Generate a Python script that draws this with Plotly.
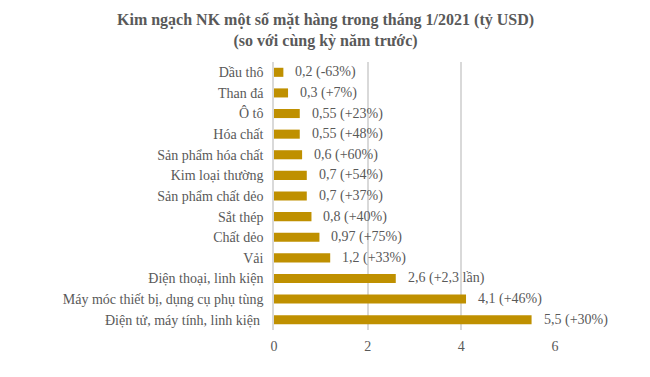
import plotly.graph_objects as go

categories = ["Dầu thô", "Than đá", "Ô tô", "Hóa chất", "Sản phẩm hóa chất",
              "Kim loại thường", "Sản phẩm chất dẻo", "Sắt thép", "Chất dẻo", "Vải",
              "Điện thoại, linh kiện", "Máy móc thiết bị, dụng cụ phụ tùng",
              "Điện tử, máy tính, linh kiện "]
values = [0.2, 0.3, 0.55, 0.55, 0.6, 0.7, 0.7, 0.8, 0.97, 1.2, 2.6, 4.1, 5.5]
labels = ["0,2 (-63%)", "0,3 (+7%)", "0,55 (+23%)", "0,55 (+48%)", "0,6 (+60%)",
          "0,7 (+54%)", "0,7 (+37%)", "0,8 (+40%)", "0,97 (+75%)", "1,2 (+33%)",
          "2,6 (+2,3 lần)", "4,1 (+46%)", "5,5 (+30%)"]
x_ticks = [0, 2, 4, 6]

FONT = "Times New Roman"
GRAY = "#595959"
L, R, T, B = 266, 103, 54, 55
PH = 377 - T - B
PW = 650 - L - R

fig = go.Figure()
fig.add_trace(go.Bar(
    y=categories, x=values, orientation="h",
    marker=dict(color="#BF9000", line=dict(width=0)),
    width=0.44,
    hoverinfo="skip",
))
for c, v, t in zip(categories, values, labels):
    fig.add_annotation(x=v, y=c, text=t, showarrow=False, xanchor="left",
                       xshift=10, font=dict(family=FONT, size=14, color=GRAY))

fig.add_annotation(
    text="<b>Kim ngạch NK một số mặt hàng trong tháng 1/2021 (tỷ USD)<br>(so với cùng kỳ năm trước)</b>",
    xref="paper", yref="paper", x=(317 - L) / PW, y=1 + (T - 22) / PH,
    xanchor="center", yanchor="middle", showarrow=False,
    font=dict(family=FONT, size=16, color=GRAY))

fig.update_layout(
    width=650, height=377,
    margin=dict(l=L, r=R, t=T, b=B, autoexpand=False),
    paper_bgcolor="white", plot_bgcolor="white",
    showlegend=False,
    font=dict(family=FONT, color=GRAY),
    xaxis=dict(range=[0, 6], tickvals=x_ticks, ticktext=[str(t) for t in x_ticks],
               showgrid=True, gridcolor="#D9D9D9", gridwidth=1.5, zeroline=False,
               showline=False, ticks="", ticklen=0, automargin=False,
               ticklabelstandoff=6,
               tickfont=dict(family=FONT, size=14, color=GRAY)),
    yaxis=dict(autorange="reversed", showgrid=False, showline=True,
               linecolor="#D9D9D9", linewidth=1.5, ticks="", ticklen=0,
               ticklabelstandoff=6, automargin=False,
               tickfont=dict(family=FONT, size=14, color=GRAY)),
)
fig.write_html("out.html")
